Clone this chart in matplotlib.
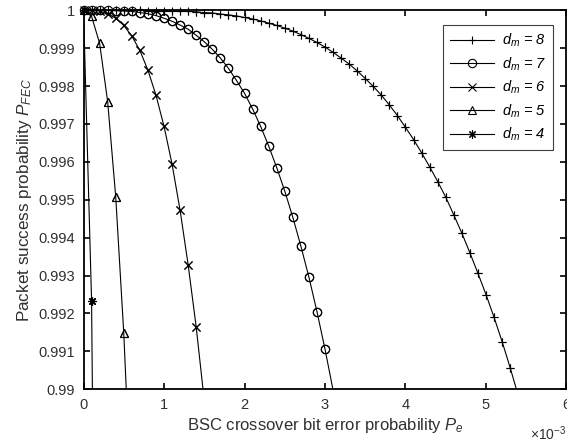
import numpy as np
import matplotlib
matplotlib.use('Agg')
import matplotlib.pyplot as plt

plt.rcParams['font.family'] = ['Liberation Sans', 'DejaVu Sans']
plt.rcParams['mathtext.fontset'] = 'custom'
plt.rcParams['mathtext.it'] = 'Liberation Sans:italic'
plt.rcParams['mathtext.rm'] = 'Liberation Sans'

# sampling grid of the crossover probability (steps of 0.1e-3)
pe = np.arange(55) * 1e-4

# packet success probability, one value per grid point
p_d8 = [1.0, 1.0, 1.0, 1.0, 1.0, 1.0, 1.0, 1.0, 0.99999, 0.99999,
        0.99999, 0.99998, 0.99998, 0.99997, 0.99996, 0.99994, 0.99993, 0.99990, 0.99988, 0.99985,
        0.99981, 0.99977, 0.99972, 0.99966, 0.99960, 0.99953, 0.99945, 0.99936, 0.99926, 0.99915,
        0.99903, 0.99889, 0.99874, 0.99858, 0.99840, 0.99820, 0.99799, 0.99776, 0.99750, 0.99722,
        0.99691, 0.99659, 0.99624, 0.99587, 0.99548, 0.99507, 0.99460, 0.99412, 0.99360, 0.99306,
        0.99250, 0.99190, 0.99126, 0.99057, 0.98984]
p_d7 = [1.0, 1.0, 1.0, 1.0, 0.99999, 0.99998, 0.99997, 0.99994, 0.99991, 0.99986,
        0.99979, 0.99971, 0.99961, 0.99950, 0.99934, 0.99917, 0.99897, 0.99874, 0.99847, 0.99815,
        0.99781, 0.99740, 0.99694, 0.99642, 0.99585, 0.99523, 0.99454, 0.99378, 0.99296, 0.99205,
        0.99106, 0.98998]
p_d6 = [1.0, 1.0, 0.99998, 0.99991, 0.99979, 0.99960, 0.99932, 0.99894, 0.99842, 0.99776,
        0.99694, 0.99594, 0.99472, 0.99328, 0.99164, 0.98970]
p_d5 = [1.0, 0.99984, 0.99913, 0.99759, 0.99508, 0.99148, 0.98670]
p_d4 = [1.0, 0.99234, 0.96940]

series = [(p_d8, '+', '8'), (p_d7, 'o', '7'), (p_d6, 'x', '6'),
          (p_d5, '^', '5'), (p_d4, (8, 2, 0), '4')]

yticks = [0.99, 0.991, 0.992, 0.993, 0.994, 0.995, 0.996, 0.997, 0.998, 0.999, 1.0]
ytick_labels = ['0.99', '0.991', '0.992', '0.993', '0.994', '0.995', '0.996',
                '0.997', '0.998', '0.999', '1']
xticks = [0, 1e-3, 2e-3, 3e-3, 4e-3, 5e-3, 6e-3]
xtick_labels = ['0', '1', '2', '3', '4', '5', '6']
ymin, ymax = 0.99, 1.0

fig = plt.figure(figsize=(5.67, 4.45), dpi=100)
ax = fig.add_axes([0.1473, 0.1252, 0.8518, 0.8517])

mstyle = dict(markersize=6, markerfacecolor='none', markeredgecolor='black', markeredgewidth=0.8)
for vals, mk, d in series:
    x = pe[:len(vals)]
    y = np.array(vals)
    keep = y >= ymin
    # line + legend entry (clipped to the axes)
    ax.plot(x, y, color='black', linewidth=0.8, marker=mk, markevery=keep,
            label=r'$d_m$ = ' + d, **mstyle)
    # markers inside the range drawn unclipped, so they sit over the frame like in the original
    ax.plot(x[keep], y[keep], linestyle='none', marker=mk, clip_on=False, zorder=3, **mstyle)

ax.set_xlim(0, 6e-3)
ax.set_ylim(ymin, ymax)
ax.set_xticks(xticks)
ax.set_xticklabels(xtick_labels)
ax.set_yticks(yticks)
ax.set_yticklabels(ytick_labels)
ax.tick_params(direction='in', top=True, right=True, length=4, width=1.2,
               labelsize=10.5, labelcolor='#303030', pad=6)
for s in ax.spines.values():
    s.set_linewidth(1.3)

ax.set_xlabel(r'BSC crossover bit error probability $P_e$', fontsize=12, color='#303030', labelpad=3)
ax.set_ylabel(r'Packet success probability $P_{FEC}$', fontsize=12.3, color='#303030', labelpad=3)
ax.text(1.0, -0.117, r'$\times 10^{-3}$', transform=ax.transAxes, ha='right', va='center',
        fontsize=10, color='#303030')

leg = ax.legend(loc='upper right', bbox_to_anchor=(0.9727, 0.961), borderaxespad=0,
                fancybox=False, framealpha=1, edgecolor='#404040', handlelength=3.0,
                handletextpad=0.6, borderpad=0.45, labelspacing=0.42,
                prop={'style': 'italic', 'size': 10.5})
leg.get_frame().set_linewidth(0.8)

plt.savefig('out.png', dpi=100)
